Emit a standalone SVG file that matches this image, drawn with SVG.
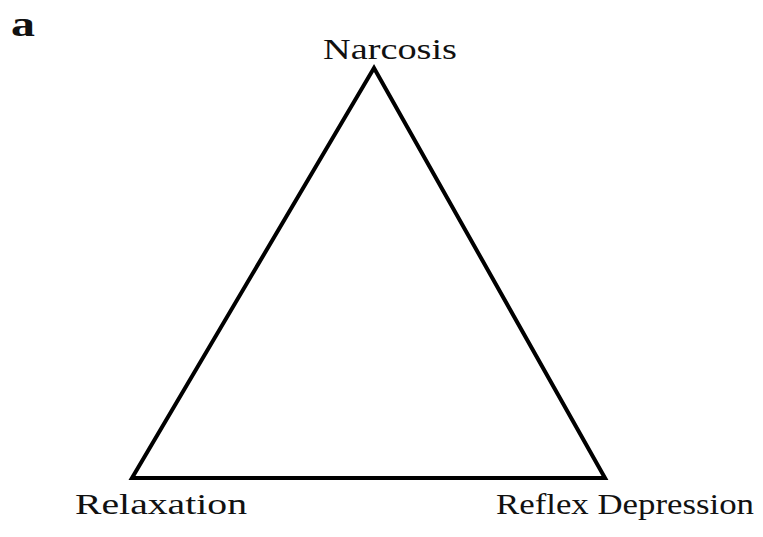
<svg xmlns="http://www.w3.org/2000/svg" width="763" height="537" viewBox="0 0 763 537">
<style>
text{font-family:"Liberation Serif","DejaVu Serif",serif;fill:#111;}
.lbl{font-size:29px;}
.edge{stroke:#000;stroke-width:4;fill:none;stroke-linejoin:miter;}
</style>
<rect width="763" height="537" fill="#fff"/>
<text x="11" y="36" style="font-size:36px;font-weight:bold" textLength="24" lengthAdjust="spacingAndGlyphs">a</text>
<g id="connectors">
<polygon class="edge" points="374,68 132,478 605,478"/>
</g>
<g id="narcosis"><text class="lbl" x="390" y="59" text-anchor="middle" textLength="134" lengthAdjust="spacingAndGlyphs">Narcosis</text></g>
<g id="relaxation"><text class="lbl" x="75" y="514" textLength="172" lengthAdjust="spacingAndGlyphs">Relaxation</text></g>
<g id="reflex"><text class="lbl" x="496" y="514" textLength="258" lengthAdjust="spacingAndGlyphs">Reflex Depression</text></g>
</svg>
